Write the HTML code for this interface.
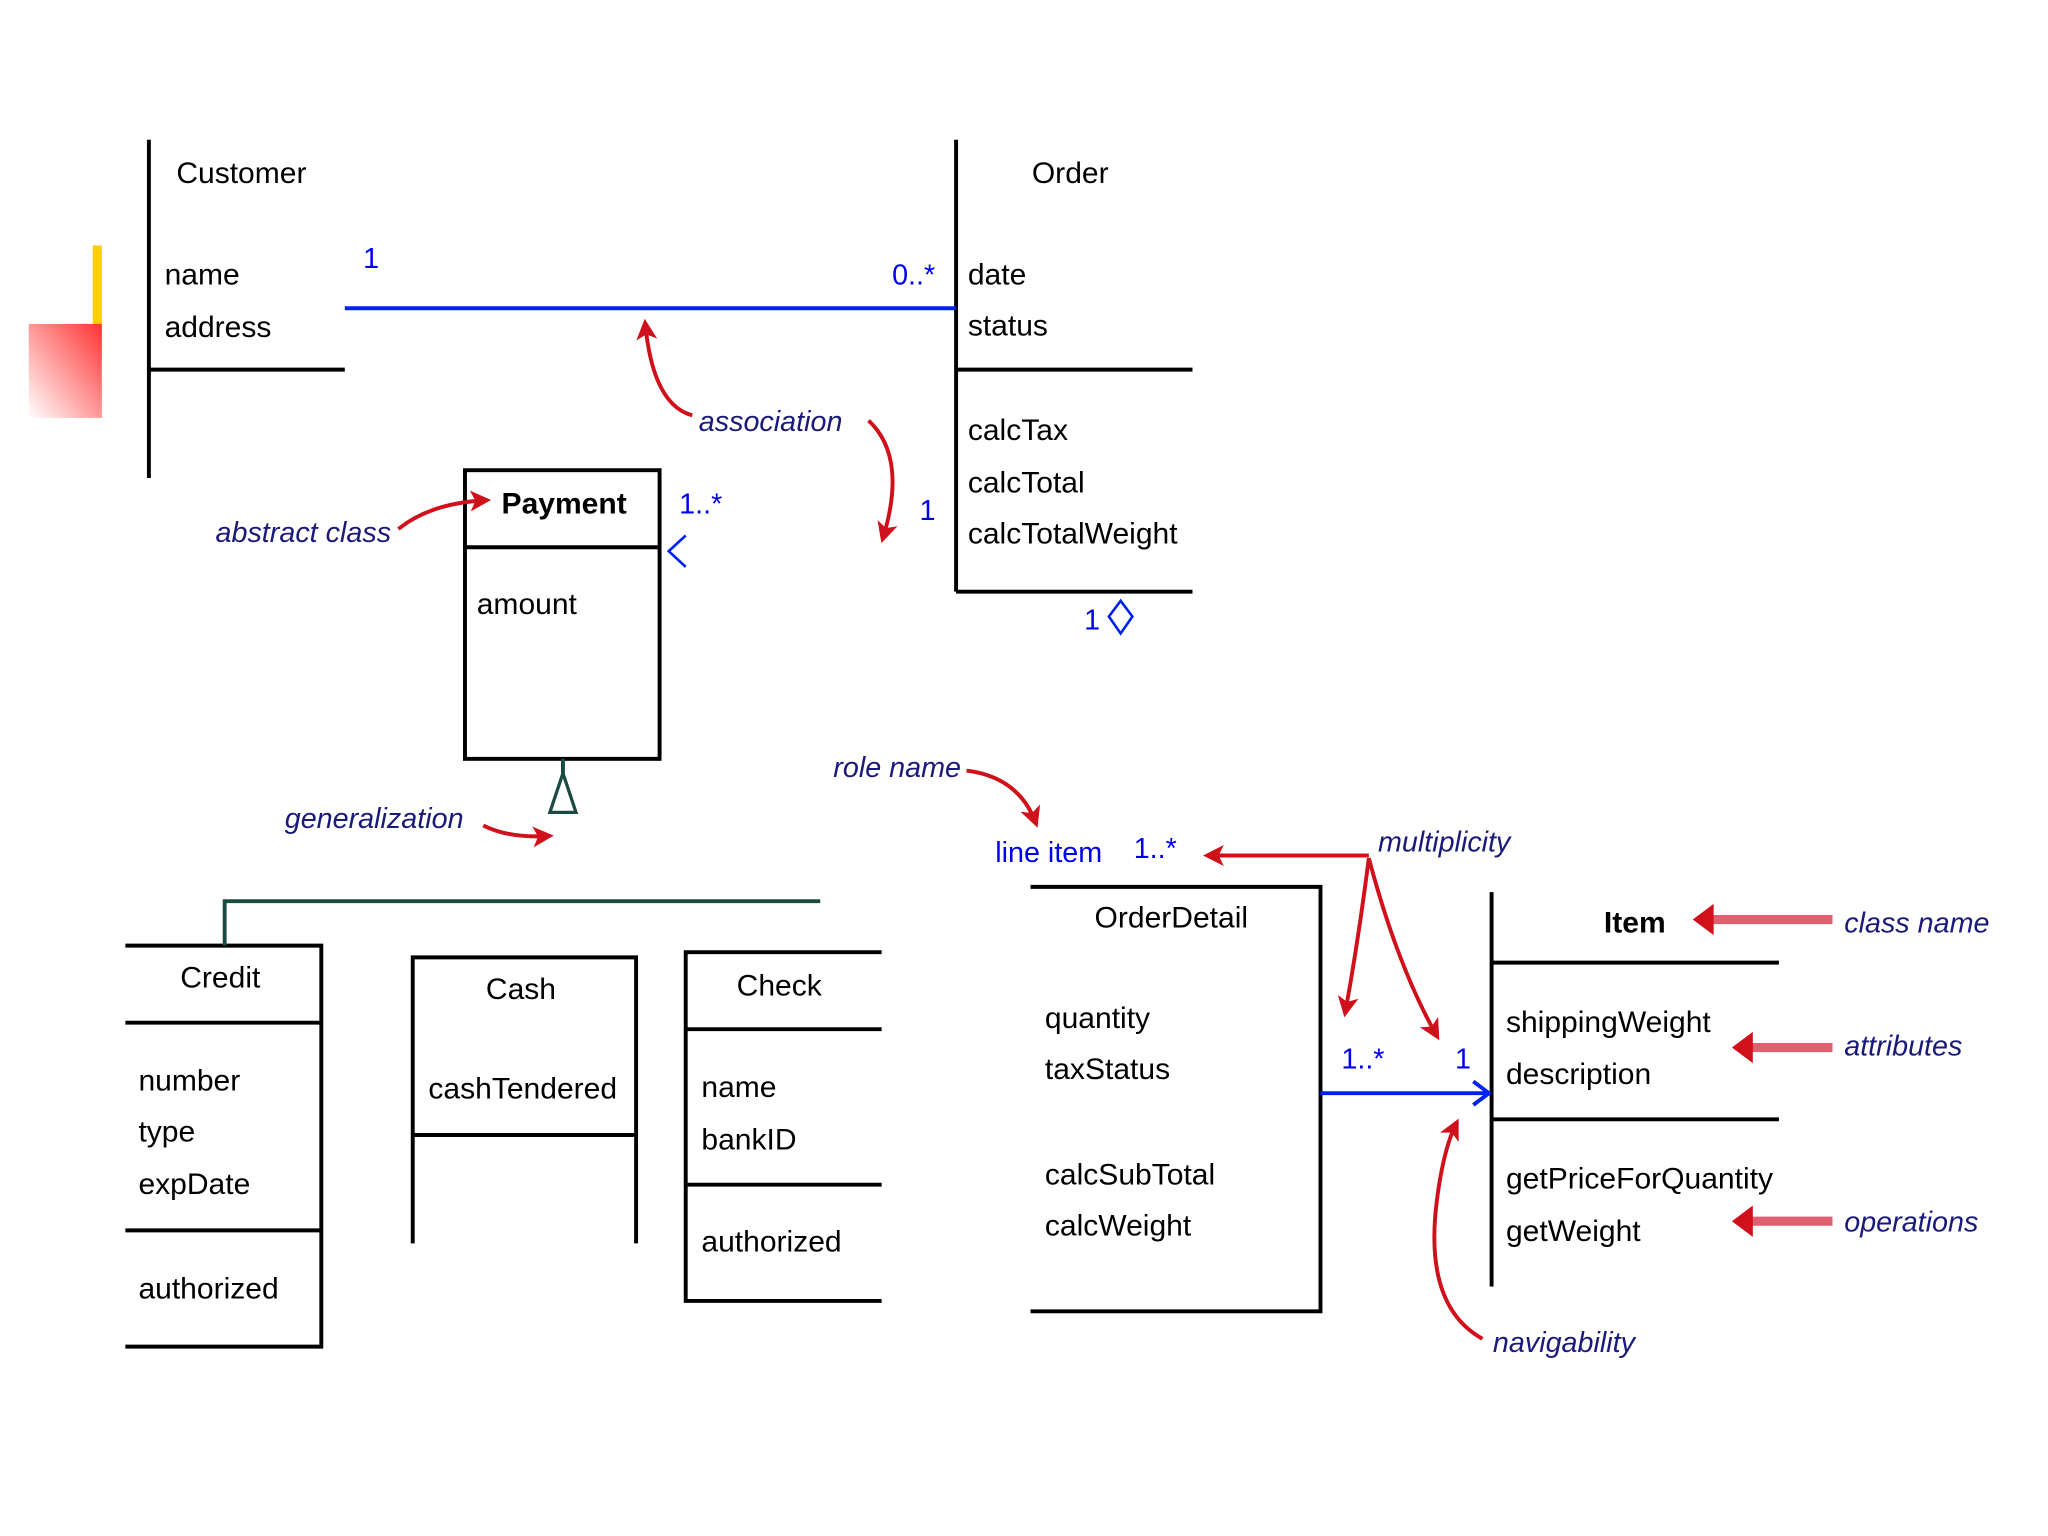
<!DOCTYPE html>
<html><head><meta charset="utf-8"><style>
html,body{margin:0;padding:0;background:#fff;width:2048px;height:1536px;overflow:hidden}
svg{display:block}
text{font-family:"Liberation Sans",sans-serif}
.t{font-size:23px;fill:#000}
.n{font-size:22px;fill:#1a1a7a;font-style:italic}
.b{font-size:22px;fill:#0000ee}
</style></head><body>
<svg width="2048" height="1536" viewBox="0 0 1568 1176" preserveAspectRatio="none" xmlns="http://www.w3.org/2000/svg">
<defs>
<linearGradient id="g" x1="1" y1="0" x2="0" y2="1"><stop offset="0" stop-color="#f33"/><stop offset="1" stop-color="#fff"/></linearGradient>
<marker id="a" markerWidth="16" markerHeight="16" refX="12" refY="8" orient="auto" markerUnits="userSpaceOnUse" viewBox="0 0 16 16"><path d="M0,0 L16,8 L0,16 L4,8 Z" fill="#d0101a"/></marker>
</defs>
<rect x="71" y="188" width="7" height="60" fill="#ffcc00"/>
<rect x="22" y="248" width="56" height="72" fill="url(#g)"/>
<g stroke="#000" stroke-width="3" fill="none">
<path d="M114 107V366M114 283H264"/>
<path d="M732 107V453M732 283H913M732 453H913"/>
<rect x="356" y="360" width="149" height="221"/><path d="M356 419H505"/>
<path d="M96 724H246V1031H96M96 783H246M96 942H246"/>
<path d="M316 952V733H487V952M316 869H487"/>
<path d="M675 729H525V996H675M525 788H675M525 907H675"/>
<path d="M789 679H1011V1004H789"/>
<path d="M1142 683V985M1142 737H1362M1142 857H1362"/>
</g>
<path d="M264 236H732" stroke="#0022ee" stroke-width="3"/>
<path d="M1011 837H1140M1128 828L1140 837L1128 846" stroke="#0022ee" stroke-width="3" fill="none"/>
<path d="M172 724V690H628M431 581V596" stroke="#1a4a40" stroke-width="3" fill="none"/>
<path d="M431 592L421 622H441Z" stroke="#1a4a40" stroke-width="2.5" fill="#fff"/>
<path d="M849 472L858 460L867 472L858 485Z" stroke="#0022ee" stroke-width="2" fill="#fff"/>
<path d="M525 410L512 422L525 434" stroke="#0022ee" stroke-width="2" fill="none"/>
<g stroke="#d0101a" stroke-width="3" fill="none" marker-end="url(#a)">
<path d="M530 318Q500 310 494 248"/>
<path d="M665 322Q695 350 676 412"/>
<path d="M305 405Q330 385 372 383"/>
<path d="M370 632Q390 642 420 640"/>
<path d="M740 590Q780 595 793 630"/>
<path d="M1048 655H925"/>
<path d="M1048 657Q1040 720 1030 775"/>
<path d="M1048 657Q1070 740 1100 793"/>
<path d="M1135 1025Q1090 1000 1100 920Q1105 880 1115 860"/>
</g>
<g stroke="#e06070" stroke-width="7" fill="none"><path d="M1403 704H1305M1403 802H1335M1403 935H1335"/></g>
<path d="M1296 704L1312 692V716Z M1326 802L1342 790V814Z M1326 935L1342 923V947Z" fill="#d0101a"/>
<text class="t" x="135" y="140">Customer</text>
<text class="t" x="126" y="218">name</text>
<text class="t" x="126" y="258">address</text>
<text class="t" x="790" y="140">Order</text>
<text class="t" x="741" y="218">date</text>
<text class="t" x="741" y="257">status</text>
<text class="t" x="741" y="337">calcTax</text>
<text class="t" x="741" y="377">calcTotal</text>
<text class="t" x="741" y="416">calcTotalWeight</text>
<text class="t" x="384" y="393" font-weight="bold" font-size="22">Payment</text>
<text class="t" x="365" y="470">amount</text>
<text class="t" x="138" y="756">Credit</text>
<text class="t" x="106" y="835">number</text>
<text class="t" x="106" y="874">type</text>
<text class="t" x="106" y="914">expDate</text>
<text class="t" x="106" y="994">authorized</text>
<text class="t" x="372" y="765">Cash</text>
<text class="t" x="328" y="841">cashTendered</text>
<text class="t" x="564" y="762">Check</text>
<text class="t" x="537" y="840">name</text>
<text class="t" x="537" y="880">bankID</text>
<text class="t" x="537" y="958">authorized</text>
<text class="t" x="838" y="710">OrderDetail</text>
<text class="t" x="800" y="787">quantity</text>
<text class="t" x="800" y="826">taxStatus</text>
<text class="t" x="800" y="907">calcSubTotal</text>
<text class="t" x="800" y="946">calcWeight</text>
<text class="t" x="1228" y="714" font-weight="bold">Item</text>
<text class="t" x="1153" y="790">shippingWeight</text>
<text class="t" x="1153" y="830">description</text>
<text class="t" x="1153" y="910">getPriceForQuantity</text>
<text class="t" x="1153" y="950">getWeight</text>
<text class="b" x="278" y="205">1</text>
<text class="b" x="683" y="218">0..*</text>
<text class="b" x="704" y="398">1</text>
<text class="b" x="520" y="393">1..*</text>
<text class="b" x="830" y="482">1</text>
<text class="b" x="762" y="660">line item</text>
<text class="b" x="868" y="657">1..*</text>
<text class="b" x="1027" y="818">1..*</text>
<text class="b" x="1114" y="818">1</text>
<text class="n" x="535" y="330">association</text>
<text class="n" x="165" y="415">abstract class</text>
<text class="n" x="218" y="634">generalization</text>
<text class="n" x="638" y="595">role name</text>
<text class="n" x="1055" y="652">multiplicity</text>
<text class="n" x="1412" y="714">class name</text>
<text class="n" x="1412" y="808">attributes</text>
<text class="n" x="1412" y="943">operations</text>
<text class="n" x="1143" y="1035">navigability</text>
</svg>
</body></html>
